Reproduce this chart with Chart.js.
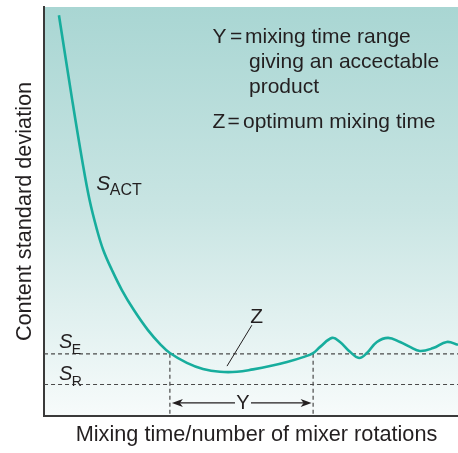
<!DOCTYPE html>
<html>
<head>
<meta charset="utf-8">
<script src="https://cdn.jsdelivr.net/npm/chart.js@4.4.1/dist/chart.umd.min.js"></script>
<style>
html,body{margin:0;padding:0;background:#fff;}
#wrap{width:458px;height:453px;}
</style>
</head>
<body>
<div id="wrap"><canvas id="c" width="458" height="453"></canvas></div>
<script>
// Mixing time (arbitrary units, 0-100) and content standard deviation (arbitrary units, 0-100)
const mixingTime = [3.6, 6.8, 9.2, 11.0, 12.8, 14.3, 16.4, 18.8, 21.7, 25.1, 28.2, 30.4, 34.5, 38.4, 42.5, 46.6, 50.5, 54.6, 58.7, 62.6, 65.0, 66.7, 69.6, 71.5, 73.9, 76.1, 78.0, 80.4, 83.1, 86.0, 88.4, 90.8, 94.0, 97.3, 100];
const contentSD  = [98.0, 77.3, 62.6, 52.8, 45.5, 40.6, 35.7, 30.8, 25.9, 21.0, 17.4, 15.4, 13.0, 11.5, 10.8, 10.8, 11.4, 12.2, 13.2, 14.4, 15.4, 16.9, 19.1, 18.1, 15.7, 14.2, 15.4, 18.1, 19.1, 18.1, 16.9, 15.9, 16.6, 18.1, 17.4];
const sE = 15.2;          // acceptable standard deviation level
const sR = 7.7;           // random mix standard deviation
const rangeY = [30.4, 65.0]; // acceptable mixing time range
const optimumZ = 44.5;    // optimum mixing time
const axisRange = [0, 100];
const xTitle = 'Mixing time/number of mixer rotations';
const yTitle = 'Content standard deviation';

const FONT = '"Liberation Sans", Arial, Helvetica, sans-serif';
const INK = '#231f20';
const TEAL = '#17ad9d';

const curve = mixingTime.map((x, i) => ({x, y: contentSD[i]}));

const dashStyle = {borderColor: '#4a4a4a', borderWidth: 1.2, borderDash: [4, 3], pointRadius: 0, tension: 0, fill: false};

const bgPlugin = {
  id: 'bg',
  beforeDraw(chart) {
    const {ctx, chartArea: a} = chart;
    const g = ctx.createLinearGradient(0, a.top, 0, a.bottom);
    g.addColorStop(0, '#a9d6d3');
    g.addColorStop(0.5, '#c9e5e3');
    g.addColorStop(1, '#f7fbfb');
    ctx.save();
    ctx.fillStyle = g;
    ctx.fillRect(a.left, a.top, a.right - a.left, a.bottom - a.top);
    ctx.restore();
  }
};

function subLabel(ctx, x, y, main, sub, mainSize, subSize, subDrop) {
  ctx.font = 'italic ' + mainSize + 'px ' + FONT;
  ctx.fillText(main, x, y);
  const w = ctx.measureText(main).width;
  ctx.font = subSize + 'px ' + FONT;
  ctx.fillText(sub, x + w - 0.5, y + subDrop);
}

const annoPlugin = {
  id: 'anno',
  afterDatasetsDraw(chart) {
    const {ctx, scales: {x, y}} = chart;
    ctx.save();
    ctx.fillStyle = INK;
    ctx.strokeStyle = INK;
    ctx.textBaseline = 'alphabetic';
    ctx.textAlign = 'left';

    // S_ACT label
    subLabel(ctx, x.getPixelForValue(12.6), y.getPixelForValue(55.3), 'S', 'ACT', 21, 16, 5);
    // S_E and S_R labels
    subLabel(ctx, x.getPixelForValue(3.6), y.getPixelForValue(16.6), 'S', 'E', 20, 14, 6);
    subLabel(ctx, x.getPixelForValue(3.6), y.getPixelForValue(8.8), 'S', 'R', 20, 14, 6);

    // Z label and leader line
    ctx.font = '21px ' + FONT;
    ctx.fillText('Z', x.getPixelForValue(49.8), y.getPixelForValue(22.7));
    ctx.lineWidth = 1;
    ctx.beginPath();
    ctx.moveTo(x.getPixelForValue(50.2), y.getPixelForValue(22.2));
    ctx.lineTo(x.getPixelForValue(optimumZ - 0.3), y.getPixelForValue(12.2));
    ctx.stroke();

    // Y double arrow
    const ay = y.getPixelForValue(3.2);
    const xl = x.getPixelForValue(rangeY[0]) + 2;
    const xr = x.getPixelForValue(rangeY[1]) - 1.5;
    const xm = x.getPixelForValue((rangeY[0] + rangeY[1]) / 2) + 1.5;
    ctx.lineWidth = 1.2;
    ctx.beginPath();
    ctx.moveTo(xl + 4, ay); ctx.lineTo(xm - 8, ay);
    ctx.moveTo(xm + 8, ay); ctx.lineTo(xr - 4, ay);
    ctx.stroke();
    ctx.beginPath();
    ctx.moveTo(xl, ay); ctx.lineTo(xl + 11, ay - 4); ctx.lineTo(xl + 8, ay); ctx.lineTo(xl + 11, ay + 4); ctx.closePath();
    ctx.moveTo(xr, ay); ctx.lineTo(xr - 11, ay - 4); ctx.lineTo(xr - 8, ay); ctx.lineTo(xr - 11, ay + 4); ctx.closePath();
    ctx.fill();
    ctx.font = '20px ' + FONT;
    ctx.textAlign = 'center';
    ctx.fillText('Y', xm, ay + 6.5);

    // Key text
    ctx.textAlign = 'left';
    ctx.font = '21px ' + FONT;
    ctx.fillText('Y', 212.5, 42.7);
    ctx.fillText('=', 230, 42.7);
    ctx.fillText('mixing time range', 245, 42.7);
    ctx.fillText('giving an accectable', 249, 67.5);
    ctx.fillText('product', 249, 92.5);
    ctx.fillText('Z', 212.5, 128.3);
    ctx.fillText('=', 227.5, 128.3);
    ctx.fillText('optimum mixing time', 243, 128.3);

    // x axis title
    ctx.font = '21.7px ' + FONT;
    ctx.textAlign = 'center';
    ctx.textBaseline = 'middle';
    ctx.fillText(xTitle, 256.5, 435);
    ctx.restore();
  }
};

new Chart(document.getElementById('c'), {
  type: 'line',
  data: {
    datasets: [
      {data: curve, borderColor: TEAL, borderWidth: 2.6, pointRadius: 0, tension: 0.4, fill: false},
      Object.assign({data: [{x: axisRange[0], y: sE}, {x: axisRange[1], y: sE}]}, dashStyle),
      Object.assign({data: [{x: axisRange[0], y: sR}, {x: axisRange[1], y: sR}]}, dashStyle),
      Object.assign({data: [{x: rangeY[0], y: sE}, {x: rangeY[0], y: axisRange[0]}]}, dashStyle),
      Object.assign({data: [{x: rangeY[1], y: sE}, {x: rangeY[1], y: axisRange[0]}]}, dashStyle)
    ]
  },
  options: {
    responsive: false,
    animation: false,
    devicePixelRatio: 1,
    layout: {padding: {left: 8, top: 7, right: 0, bottom: 37}},
    plugins: {legend: {display: false}, tooltip: {enabled: false}},
    scales: {
      x: {
        type: 'linear', min: axisRange[0], max: axisRange[1],
        grid: {display: false, drawTicks: false},
        border: {display: true, color: '#3a3a3a', width: 2},
        ticks: {display: false},
        title: {display: false}
      },
      y: {
        type: 'linear', min: axisRange[0], max: axisRange[1],
        grid: {display: false, drawTicks: false},
        border: {display: true, color: '#3a3a3a', width: 2},
        ticks: {display: false},
        title: {display: true, text: yTitle, color: INK,
                font: {family: FONT, size: 21.7}, padding: {top: 4, bottom: 6}}
      }
    }
  },
  plugins: [bgPlugin, annoPlugin]
});
</script>
</body>
</html>
